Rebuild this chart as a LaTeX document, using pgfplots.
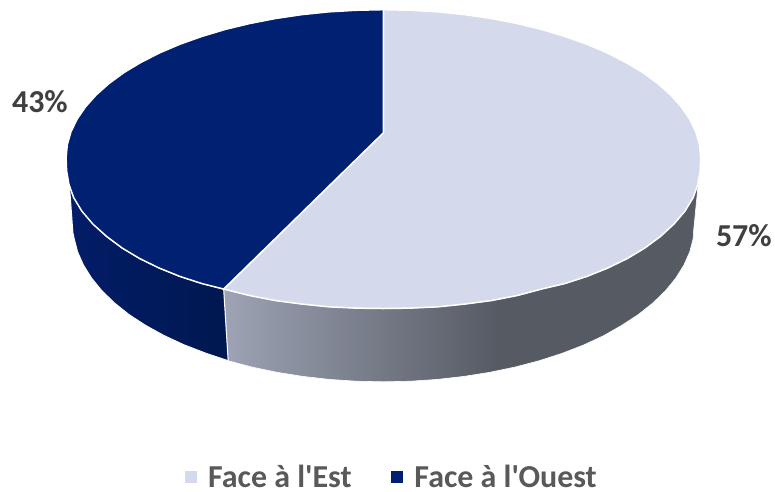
\documentclass[border=0pt]{standalone}
\usepackage{pgfplots}
\pgfplotsset{compat=1.18}
\usepackage{fontspec}
\setmainfont{Carlito}[Ligatures=TeXOff]
\definecolor{est}{HTML}{D4DAEC}
\definecolor{ouest}{HTML}{002071}
\definecolor{sideA}{HTML}{9EA3B5}
\definecolor{sideB}{HTML}{555A63}
\definecolor{darkA}{HTML}{021C68}
\definecolor{darkB}{HTML}{00184F}
\definecolor{lbl}{HTML}{404040}
\definecolor{leg}{HTML}{595959}
\pgfdeclarehorizontalshading{sidegrad}{100bp}{color(0bp)=(sideA); color(25bp)=(sideA); color(54bp)=(sideB); color(100bp)=(sideB)}
\begin{document}
\begin{tikzpicture}
\begin{axis}[
  name=ax,
  scale only axis, width=775pt, height=492pt,
  xmin=0, xmax=775, ymin=0, ymax=492, y dir=reverse,
  hide axis, clip=false, no markers,
  legend columns=2,
  legend cell align=left,
  legend image code/.code={\path[#1,draw=none] (0pt,-5.5pt) rectangle (12pt,6.5pt); \path (0pt,0pt) (21pt,0pt);},
  legend style={at={(axis cs:185,478)}, anchor=west, draw=none, fill=none,
    font=\fontsize{32}{35}\selectfont\bfseries\color{leg},
    /tikz/every even column/.style={column sep=37.5pt}, inner sep=0pt, outer sep=0pt},
]
% side of the 57% slice
\addplot[forget plot, shade, shading=sidegrad, draw=white, line width=0.6pt] coordinates {
(224,289.5)(250,296)(275.6,301)(302,304.5)(329,307.3)(356.4,308.6)(384,309)(411.6,308.6)(439,307.3)(466,304.5)(492.4,301)(518,296)(542.5,289.5)(565.8,284)(588,276.8)(608.5,268.5)(628,259)(645.5,248.5)(661,237)(674.5,224.5)(685.5,211.5)(693.5,198)(699.5,182)
(694.5,233)(694.3,238.7)(690.8,252.3)(684.9,265.6)(676.7,278.7)(666.4,291.3)(653.8,303.5)(639.2,315.1)(622.6,325.9)(604.2,336.4)(584.1,345.7)(562.6,354)(539.6,361.4)(515.5,367.7)(490.4,372.9)(464.5,377)(438,380)(411.1,381.8)(384,382.4)(356.9,381.8)(330,380)(303.5,377)(277.6,372.9)(252.6,367.7)(228.5,361.3)
} --cycle;
% side of the 43% slice
\addplot[forget plot, left color=darkA, right color=darkB, draw=white, line width=1pt] coordinates {
(224,289.5)(202.2,284)(180,276.8)(159.5,268.5)(140,259)(122.5,248.5)(107,237)(93.5,224.5)(82.5,211.5)(74.5,198)(69.3,182)
(73,233)(74.2,238.7)(77.7,252.3)(83.6,265.6)(91.8,278.7)(102.1,291.3)(114.7,303.5)(129.2,315.1)(145.8,325.9)(164.1,336)(184.1,345.3)(205.6,353.6)(228.5,361.3)
} --cycle;
% top of the 57% slice
\addplot[forget plot, fill=est, draw=white, line width=1.5pt] coordinates {
(384,133)(384,9.7)(411.6,10.3)(439,11.9)(466,14.7)(492.4,18.6)(518,23.6)(542.5,29.5)(565.8,36.5)(587.8,44.3)(608.2,53)(627,62.6)(644,72.8)(658.9,83.7)(671.8,95.2)(682.4,107.1)(690.8,119.4)(696.9,132)(700.6,144.9)(701.8,158)
(701.3,171)(699,184.5)(694.2,198)(686,211.5)(674.9,224.5)(661.3,237)(645.7,248.5)(628.2,259)(608.6,268.5)(588,276.8)(565.8,284)(542.5,289.5)(518,296)(492.4,301)(466,304.5)(439,307.3)(411.6,308.6)(384,309)
(356.4,308.6)(329,307.3)(302,304.5)(275.6,301)(250,296)(224,289.5)
} --cycle;
% top of the 43% slice
\addplot[forget plot, fill=ouest, draw=white, line width=1.5pt] coordinates {
(384,133)(224,289.5)(202.2,284)(180,276.8)(159.5,268.5)(140,259)(122.5,248.5)(107,237)(93.1,224.5)(82,211.5)(73.8,198)(69,184.5)(66.7,171)(66.2,158)
(67.4,144.9)(71.1,132)(77.2,119.4)(85.6,107.1)(96.2,95.2)(109.1,83.7)(124,72.8)(141,62.6)(159.8,53)(180.2,44.3)(202.2,36.5)(225.5,29.5)(250,23.6)(275.6,18.6)(302,14.7)(329,11.9)(356.4,10.3)(384,9.7)
} --cycle;
\addlegendimage{fill=est}
\addlegendentry{Face à l'Est}
\addlegendimage{fill=ouest}
\addlegendentry{Face à l'Ouest}
\node[text=lbl, font=\fontsize{32}{35}\selectfont\bfseries] at (axis cs:40,101.5) {43\%};
\node[text=lbl, font=\fontsize{32}{35}\selectfont\bfseries] at (axis cs:745,236) {57\%};
\end{axis}
\path[use as bounding box] (ax.south west) rectangle (ax.north east);
\end{tikzpicture}
\end{document}
